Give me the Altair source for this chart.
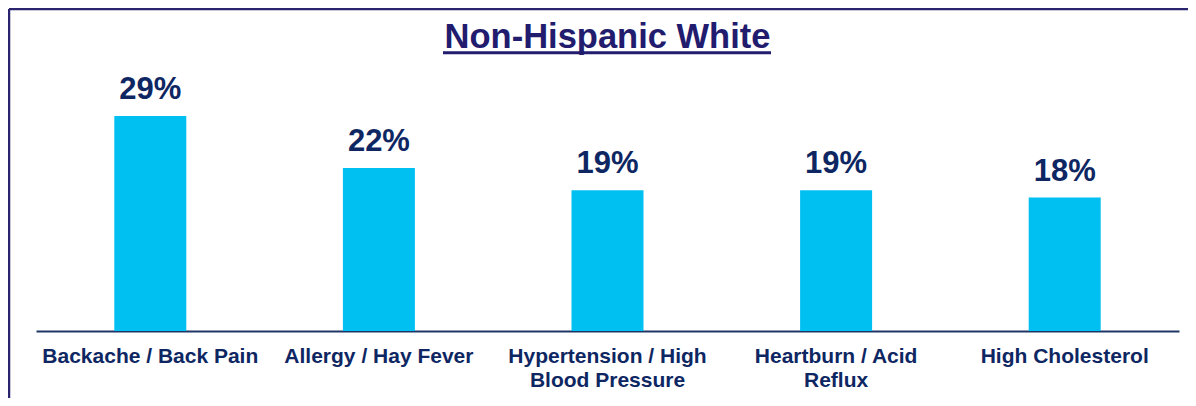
import altair as alt
import pandas as pd

# ---- data ----
categories = [
    "Backache / Back Pain",
    "Allergy / Hay Fever",
    "Hypertension / High Blood Pressure",
    "Heartburn / Acid Reflux",
    "High Cholesterol",
]
values = [29, 22, 19, 19, 18]
label_lines = [
    ["Backache / Back Pain"],
    ["Allergy / Hay Fever"],
    ["Hypertension / High", "Blood Pressure"],
    ["Heartburn / Acid", "Reflux"],
    ["High Cholesterol"],
]
title_text = "Non-Hispanic White"

# ---- styling ----
FONT = "Liberation Sans"
NAVY = "#0E2763"
TITLE_C = "#221C6E"
FRAME_C = "#2B246E"
BAR_C = "#00C0F2"

W, H = 1143, 323
PAD = {"left": 28, "top": 0, "right": 9, "bottom": 67}

df = pd.DataFrame({
    "category": categories,
    "value": values,
    "label": [f"{v}%" for v in values],
})

# build multi-line axis labels
parts = []
for cat, lines in zip(categories, label_lines):
    arr = "[" + ",".join("'" + l + "'" for l in lines) + "]"
    parts.append(f"datum.value == '{cat}' ? {arr} : ")
label_expr = "".join(parts) + "datum.value"

x_enc = alt.X(
    "category:N",
    sort=categories,
    scale=alt.Scale(paddingInner=0, paddingOuter=0),
    axis=alt.Axis(
        title=None,
        ticks=False,
        tickSize=0,
        labelExpr=label_expr,
        labelFont=FONT,
        labelFontSize=21,
        labelFontWeight="bold",
        labelColor=NAVY,
        labelAngle=0,
        labelLimit=0,
        labelPadding=14,
        labelLineHeight=24,
        labelOverlap=False,
        domainColor="#1F3566",
        domainWidth=2,
        grid=False,
    ),
)
y_enc = alt.Y("value:Q", scale=alt.Scale(domain=[0, 43.57], nice=False, zero=True), axis=None)

base = alt.Chart(df)

bars = base.mark_bar(size=72, color=BAR_C).encode(x=x_enc, y=y_enc)

labels = base.mark_text(
    dy=-17, baseline="alphabetic", align="center",
    font=FONT, fontSize=31, fontWeight="bold", color=NAVY,
).encode(x=alt.X("category:N", sort=categories), y=y_enc, text="label:N")

title_df = pd.DataFrame({"t": [title_text]})
title = alt.Chart(title_df).mark_text(
    align="center", baseline="alphabetic",
    font=FONT, fontSize=34.5, fontWeight="bold", color=TITLE_C,
).encode(x=alt.value(W / 2), y=alt.value(39.5), text="t:N")

underline = alt.Chart(title_df).mark_rule(color=TITLE_C, strokeWidth=3).encode(
    x=alt.value(407), x2=alt.value(735), y=alt.value(44.7)
)

frame_top = alt.Chart(title_df).mark_rule(color=FRAME_C, strokeWidth=2.5).encode(
    x=alt.value(-27), x2=alt.value(1160), y=alt.value(1)
)
frame_left = alt.Chart(title_df).mark_rule(color=FRAME_C, strokeWidth=2.5).encode(
    x=alt.value(-27), y=alt.value(1), y2=alt.value(400)
)

chart = alt.layer(bars, labels, title, underline, frame_top, frame_left).properties(
    width=W, height=H, padding=PAD, autosize="none", background="white",
).configure_view(stroke=None)

chart.save("out.html", embed_options={"renderer": "svg", "actions": False})
